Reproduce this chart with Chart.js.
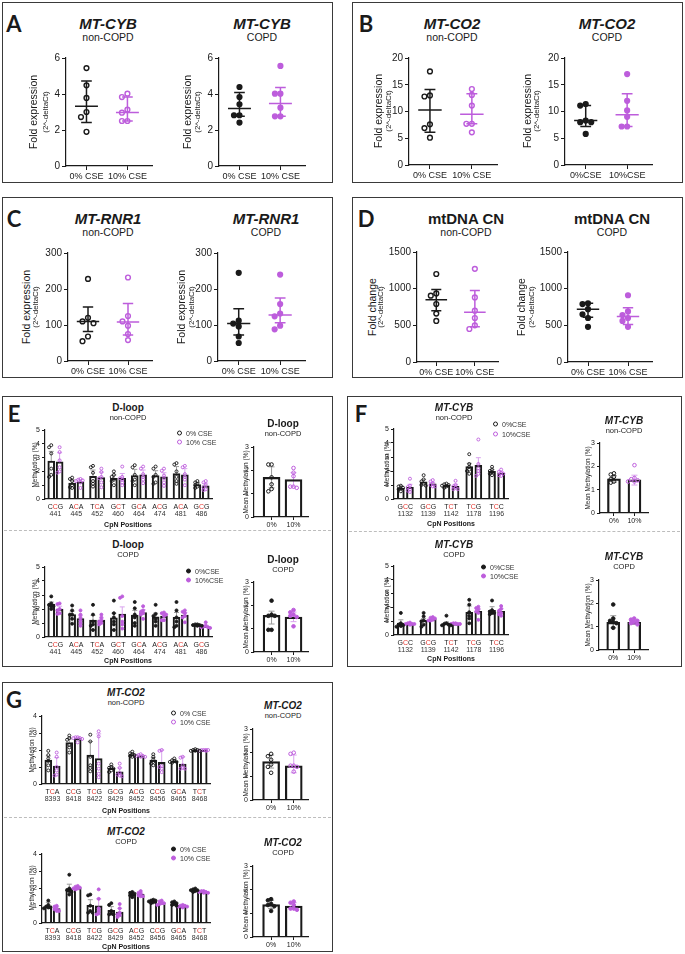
<!DOCTYPE html>
<html>
<head>
<meta charset="utf-8">
<script src="https://cdn.jsdelivr.net/npm/chart.js"></script>
<style>
  body { margin: 0; background: #fff; }
  #page { position: relative; width: 685px; height: 954px; overflow: hidden; background: #fff;
          font-family: "Liberation Sans", Arial, sans-serif; color: #1a1a1a; }
  .box { position: absolute; border: 1.5px solid #3a3a3a; box-sizing: border-box; }
  .dash { position: absolute; height: 0; border-top: 1.5px dashed #bdbdbd; }
  .t { position: absolute; transform: translate(-50%, -50%); white-space: nowrap; line-height: 1; z-index: 2; }
  .t.r { transform: translate(-50%, -50%) rotate(-90deg); }
  .leg { position: absolute; transform: translateY(-50%); white-space: nowrap; line-height: 1;
         font-size: 7px; color: #333; z-index: 2; }
  .leg i { display: inline-block; width: 3px; height: 3px; border-radius: 50%; border: 1px solid;
           margin-right: 4px; vertical-align: middle; position: relative; top: -1px; }
  canvas { position: absolute; z-index: 1; }
</style>
</head>
<body>
<div id="page">
  <div class="box" style="left:2px;top:2px;width:331px;height:181px"></div>
  <div class="box" style="left:352px;top:2px;width:331px;height:181px"></div>
  <div class="box" style="left:2px;top:197px;width:331px;height:181px"></div>
  <div class="box" style="left:352px;top:197px;width:331px;height:181px"></div>
  <div class="box" style="left:2px;top:396px;width:331px;height:271px"></div>
  <div class="box" style="left:347px;top:396px;width:335px;height:271px"></div>
  <div class="box" style="left:2px;top:682px;width:331px;height:270px"></div>
  <div class="dash" style="left:4px;top:530px;width:327px"></div>
  <div class="dash" style="left:349px;top:531px;width:331px"></div>
  <div class="dash" style="left:4px;top:817px;width:327px"></div>
</div>
<script>
// ---------- A-D : fold expression / fold change, 6 donors per group ----------
const cseLabels = ['0% CSE', '10% CSE'];
const cseLabelsTight = ['0%CSE', '10%CSE'];

const feCybNon0 = [5.44, 4.48, 3.78, 3.0, 2.72, 1.9];
const feCybNon10 = [4.02, 3.83, 3.13, 2.96, 2.5, 2.5];
const feCybNonMid = [3.32, 2.97];
const feCybNonLo = [2.41, 2.5];
const feCybNonHi = [4.72, 3.83];

const feCybCopd0 = [4.39, 3.83, 3.43, 2.82, 2.82, 2.41];
const feCybCopd10 = [5.56, 4.02, 4.02, 3.24, 2.76, 2.76];
const feCybCopdMid = [3.19, 3.47];
const feCybCopdLo = [2.76, 2.76];
const feCybCopdHi = [4.08, 4.36];

const feCo2Non0 = [17.5, 13.0, 12.8, 7.6, 6.9, 5.1];
const feCo2Non10 = [14.2, 13.1, 11.1, 7.7, 7.7, 6.1];
const feCo2NonMid = [10.3, 9.5];
const feCo2NonLo = [6.1, 7.7];
const feCo2NonHi = [14.1, 13.3];

const feCo2Copd0 = [11.4, 11.1, 8.3, 8.0, 8.0, 5.8];
const feCo2Copd10 = [17.0, 12.0, 10.2, 9.0, 7.2, 7.2];
const feCo2CopdMid = [8.3, 9.4];
const feCo2CopdLo = [7.2, 7.2];
const feCo2CopdHi = [11.1, 13.3];

const feRnrNon0 = [228, 120, 110, 105, 68, 55];
const feRnrNon10 = [232, 125, 110, 98, 75, 58];
const feRnrNonMid = [110, 108];
const feRnrNonLo = [82, 72];
const feRnrNonHi = [150, 160];

const feRnrCopd0 = [245, 112, 104, 96, 68, 50];
const feRnrCopd10 = [240, 158, 132, 124, 98, 88];
const feRnrCopdMid = [104, 128];
const feRnrCopdLo = [72, 106];
const feRnrCopdHi = [145, 175];

const fcCnNon0 = [1200, 935, 905, 790, 660, 560];
const fcCnNon10 = [1270, 880, 700, 600, 500, 450];
const fcCnNonMid = [850, 680];
const fcCnNonLo = [700, 480];
const fcCnNonHi = [990, 975];

const fcCnCopd0 = [800, 790, 720, 650, 600, 480];
const fcCnCopd10 = [910, 690, 640, 600, 560, 480];
const fcCnCopdMid = [720, 620];
const fcCnCopdLo = [610, 510];
const fcCnCopdHi = [800, 740];

// ---------- E-G : methylation per CpN position ----------
const dlCodons = ['CCG', 'ACA', 'TCA', 'GCT', 'GCA', 'ACG', 'ACA', 'GCG'];
const dlSites = ['441', '445', '452', '460', '464', '474', '481', '486'];
const cybCodons = ['GCC', 'GCG', 'TCT', 'TCG', 'TCC'];
const cybSites = ['1132', '1139', '1142', '1178', '1196'];
const co2Codons = ['TCA', 'CCG', 'TCG', 'GCG', 'ACG', 'CCG', 'GCA', 'TCT'];
const co2Sites = ['8393', '8418', '8422', '8429', '8452', '8456', '8465', '8468'];
const meanLabels = ['0%', '10%'];

const mDlNonBar0 = [2.75, 1.15, 1.65, 1.5, 1.7, 1.7, 1.85, 1.05];
const mDlNonBar10 = [2.7, 1.25, 1.55, 1.5, 1.75, 1.6, 1.75, 0.95];
const mDlNonErr0 = [3.45, 1.4, 2.1, 1.75, 2.15, 2.05, 2.35, 1.2];
const mDlNonErr10 = [3.35, 1.4, 1.95, 1.85, 2.1, 1.9, 2.2, 1.15];
const mDlNonPts0 = [[3.9, 3.75, 3.3, 2.2, 1.75, 1.6], [1.55, 1.45, 1.3, 1.0, 0.85, 0.8], [2.4, 2.3, 1.9, 1.3, 1.1, 0.9], [2.0, 1.75, 1.6, 1.4, 1.3, 1.0], [2.45, 2.3, 1.75, 1.4, 1.3, 1.0], [2.35, 2.2, 1.75, 1.6, 1.2, 1.1], [2.6, 2.5, 2.0, 1.6, 1.3, 1.1], [1.3, 1.2, 1.1, 1.0, 0.9, 0.8]];
const mDlNonPts10 = [[3.75, 3.4, 2.8, 2.3, 2.0, 1.9], [1.45, 1.4, 1.35, 1.3, 1.2, 0.8], [2.2, 1.95, 1.6, 1.5, 1.2, 0.85], [2.35, 1.6, 1.5, 1.4, 1.2, 1.0], [2.35, 2.2, 1.8, 1.6, 1.4, 1.15], [2.2, 2.05, 1.7, 1.5, 1.2, 0.95], [2.4, 2.3, 1.8, 1.6, 1.4, 1.0], [1.3, 1.2, 1.0, 0.85, 0.7, 0.65]];

const mDlCopdBar0 = [2.33, 1.6, 1.2, 1.37, 1.56, 1.44, 1.4, 0.85];
const mDlCopdBar10 = [2.0, 1.32, 1.2, 1.63, 1.75, 1.49, 1.56, 0.78];
const mDlCopdErr0 = [2.5, 1.85, 1.55, 1.7, 1.9, 1.7, 1.75, 0.9];
const mDlCopdErr10 = [2.2, 1.55, 1.35, 2.15, 1.95, 1.65, 1.75, 0.85];
const mDlCopdPts0 = [[2.9, 2.4, 2.3, 2.2, 2.2, 2.0], [2.25, 1.9, 1.6, 1.6, 1.3, 0.95], [2.3, 1.6, 1.1, 0.9, 0.8, 0.5], [2.6, 1.7, 1.4, 1.1, 0.9, 0.5], [2.5, 2.05, 1.6, 1.4, 1.0, 0.8], [2.3, 1.65, 1.5, 1.3, 1.1, 0.8], [2.5, 1.9, 1.4, 1.1, 0.8, 0.7], [0.9, 0.9, 0.85, 0.85, 0.8, 0.8]];
const mDlCopdPts10 = [[2.4, 2.35, 2.0, 1.9, 1.7, 1.65], [1.9, 1.6, 1.4, 1.2, 1.0, 0.8], [1.6, 1.4, 1.2, 1.1, 1.0, 0.9], [2.9, 2.8, 1.5, 1.1, 0.9, 0.6], [2.2, 1.9, 1.8, 1.7, 1.6, 1.3], [1.75, 1.7, 1.6, 1.5, 1.2, 1.2], [1.9, 1.8, 1.7, 1.5, 1.4, 1.05], [1.05, 0.8, 0.75, 0.7, 0.7, 0.65]];

const mCybNonBar0 = [0.78, 1.23, 0.97, 2.32, 1.97];
const mCybNonBar10 = [0.84, 1.08, 0.9, 2.4, 1.84];
const mCybNonErr0 = [0.95, 1.4, 1.05, 2.55, 2.1];
const mCybNonErr10 = [1.05, 1.2, 1.05, 2.95, 1.95];
const mCybNonPts0 = [[0.95, 0.9, 0.8, 0.75, 0.7, 0.55], [1.7, 1.4, 1.25, 1.1, 1.0, 0.95], [1.1, 1.05, 1.0, 0.95, 0.9, 0.8], [3.2, 2.5, 2.3, 2.1, 2.0, 1.8], [2.3, 2.1, 2.0, 1.9, 1.8, 1.7]];
const mCybNonPts10 = [[1.45, 0.95, 0.85, 0.7, 0.6, 0.5], [1.35, 1.25, 1.1, 1.0, 0.9, 0.9], [1.3, 1.0, 0.9, 0.8, 0.7, 0.7], [4.25, 2.5, 2.2, 2.0, 1.8, 1.65], [2.1, 1.95, 1.85, 1.8, 1.7, 1.65]];

const mCybCopdBar0 = [0.86, 1.06, 0.87, 1.64, 1.78];
const mCybCopdBar10 = [0.82, 1.16, 0.82, 1.71, 1.71];
const mCybCopdErr0 = [1.1, 1.2, 0.95, 2.1, 2.05];
const mCybCopdErr10 = [0.88, 1.25, 0.85, 1.9, 1.9];
const mCybCopdPts0 = [[1.6, 0.85, 0.75, 0.7, 0.65, 0.6], [1.6, 1.35, 1.05, 1.0, 0.75, 0.6], [1.4, 0.85, 0.8, 0.75, 0.7, 0.7], [2.55, 2.2, 1.65, 1.4, 1.2, 0.85], [2.5, 1.8, 1.7, 1.6, 1.6, 1.5]];
const mCybCopdPts10 = [[0.9, 0.85, 0.8, 0.8, 0.8, 0.75], [1.3, 1.25, 1.2, 1.1, 1.05, 1.05], [0.85, 0.85, 0.8, 0.8, 0.8, 0.8], [2.05, 1.95, 1.85, 1.7, 1.6, 1.1], [2.1, 1.9, 1.75, 1.6, 1.5, 1.4]];

const mCo2NonBar0 = [1.4, 2.44, 1.7, 0.92, 1.73, 1.4, 1.35, 1.99];
const mCo2NonBar10 = [1.05, 2.67, 1.5, 0.72, 1.66, 1.27, 1.17, 1.99];
const mCo2NonErr0 = [1.65, 2.65, 2.5, 1.05, 1.8, 1.55, 1.45, 2.05];
const mCo2NonErr10 = [1.55, 2.75, 2.95, 0.95, 1.7, 2.0, 1.6, 2.0];
const mCo2NonPts0 = [[1.95, 1.7, 1.5, 1.35, 1.1, 0.8], [2.85, 2.7, 2.6, 2.3, 2.15, 1.85], [2.9, 2.5, 1.6, 1.1, 0.95, 0.75], [1.15, 1.0, 0.95, 0.9, 0.8, 0.7], [1.9, 1.8, 1.75, 1.7, 1.65, 1.6], [1.75, 1.6, 1.45, 1.3, 1.2, 1.1], [1.5, 1.4, 1.35, 1.3, 1.3, 1.25], [2.05, 2.0, 2.0, 1.95, 1.95, 1.95]];
const mCo2NonPts10 = [[1.85, 1.6, 1.0, 0.8, 0.55, 0.5], [2.75, 2.75, 2.7, 2.7, 2.65, 2.45], [3.1, 2.8, 1.2, 0.9, 0.6, 0.4], [1.2, 0.95, 0.65, 0.55, 0.5, 0.45], [1.75, 1.7, 1.65, 1.65, 1.6, 1.6], [2.0, 1.95, 1.05, 1.0, 0.9, 0.7], [1.6, 1.55, 1.1, 0.95, 0.9, 0.9], [2.0, 2.0, 1.95, 1.95, 2.0, 2.0]];

const mCo2CopdBar0 = [0.99, 2.0, 1.03, 0.74, 1.67, 1.26, 1.13, 1.9];
const mCo2CopdBar10 = [0.83, 2.04, 0.99, 0.64, 1.67, 1.17, 0.97, 1.8];
const mCo2CopdErr0 = [1.2, 2.25, 1.35, 0.95, 1.75, 1.3, 1.2, 1.95];
const mCo2CopdErr10 = [0.95, 2.1, 1.4, 0.85, 1.75, 1.2, 1.05, 1.85];
const mCo2CopdPts0 = [[1.3, 1.05, 0.95, 0.9, 0.9, 0.85], [2.8, 2.0, 1.9, 1.85, 1.8, 1.65], [1.65, 1.6, 1.0, 0.7, 0.6, 0.6], [1.15, 1.05, 0.7, 0.55, 0.5, 0.5], [1.8, 1.75, 1.7, 1.65, 1.6, 1.5], [1.35, 1.3, 1.3, 1.25, 1.2, 1.15], [1.25, 1.2, 1.15, 1.1, 1.05, 1.0], [2.0, 1.95, 1.9, 1.9, 1.85, 1.8]];
const mCo2CopdPts10 = [[1.0, 0.95, 0.85, 0.8, 0.7, 0.7], [2.15, 2.1, 2.05, 2.0, 2.0, 1.95], [1.95, 1.4, 0.85, 0.7, 0.55, 0.5], [1.1, 0.85, 0.6, 0.5, 0.45, 0.35], [1.85, 1.75, 1.7, 1.6, 1.55, 1.55], [1.3, 1.25, 1.15, 1.15, 1.1, 1.05], [1.05, 1.0, 1.0, 0.95, 0.95, 0.9], [1.85, 1.85, 1.8, 1.8, 1.75, 1.75]];

// mean methylation (bar, SD low, SD high, donors)
const mDlNonMean = [1.7, 1.6], mDlNonMeanLo = [1.25, 1.3], mDlNonMeanHi = [2.15, 1.9];
const mDlNonMean0 = [2.25, 2.25, 1.7, 1.4, 1.2, 1.1], mDlNonMean10 = [2.1, 1.9, 1.75, 1.3, 1.3, 1.25];
const mDlCopdMean = [1.57, 1.5], mDlCopdMeanLo = [1.2, 1.3], mDlCopdMeanHi = [1.75, 1.71];
const mDlCopdMean0 = [2.2, 1.6, 1.55, 1.55, 0.95, 0.95], mDlCopdMean10 = [1.8, 1.7, 1.6, 1.55, 1.5, 1.1];
const mCybNonMean = [1.46, 1.42], mCybNonMeanLo = [1.32, 1.2], mCybNonMeanHi = [1.6, 1.62];
const mCybNonMean0 = [1.7, 1.65, 1.55, 1.45, 1.35, 1.3], mCybNonMean10 = [2.05, 1.5, 1.45, 1.4, 1.35, 1.35];
const mCybCopdMean = [1.19, 1.19], mCybCopdMeanLo = [0.95, 1.1], mCybCopdMeanHi = [1.47, 1.28];
const mCybCopdMean0 = [1.95, 1.35, 1.25, 1.2, 1.15, 0.95], mCybCopdMean10 = [1.35, 1.3, 1.25, 1.2, 1.15, 1.1];
const mCo2NonMean = [1.62, 1.44], mCo2NonMeanLo = [1.35, 1.15], mCo2NonMeanHi = [1.9, 1.9];
const mCo2NonMean0 = [1.95, 1.85, 1.7, 1.5, 1.4, 1.15], mCo2NonMean10 = [2.0, 1.95, 1.45, 1.45, 1.4, 1.2];
const mCo2CopdMean = [1.37, 1.31], mCo2CopdMeanLo = [1.2, 1.18], mCo2CopdMeanHi = [1.55, 1.45];
const mCo2CopdMean0 = [1.6, 1.55, 1.4, 1.35, 1.3, 1.1], mCo2CopdMean10 = [1.5, 1.45, 1.35, 1.2, 1.2, 1.15];

// ---------- drawing ----------
const FONT = '"Liberation Sans", Arial, sans-serif';
const INK = '#1a1a1a', PURPLE = '#bd5ddc', ERR0 = '#9b9b9b', ERR10 = '#d9a3ee', RED = '#e8372f';
Chart.defaults.font.family = FONT;
Chart.defaults.color = INK;
const page = document.getElementById('page');

function text(str, x, y, css, rotate) {
  const d = document.createElement('div');
  d.className = rotate ? 't r' : 't';
  d.textContent = str;
  d.style.cssText = `left:${x}px;top:${y}px;${css}`;
  page.appendChild(d);
}

function legend(x, y, str, col, filled) {
  const d = document.createElement('div');
  d.className = 'leg';
  d.style.left = (x - 3) + 'px';
  d.style.top = y + 'px';
  const dot = document.createElement('i');
  dot.style.borderColor = col;
  dot.style.background = filled ? col : 'transparent';
  d.append(dot, str);
  page.appendChild(d);
}

// canvas placed so that the plot area lands on the given box
function place(ax, top, bot, right, yw, pt, pr, xh) {
  const c = document.createElement('canvas');
  const left = ax - yw, y0 = top - pt;
  c.width = right + pr - left;
  c.height = bot + xh - y0;
  c.style.left = left + 'px';
  c.style.top = y0 + 'px';
  page.appendChild(c);
  return c;
}

// simple beeswarm: sideways offsets (px) so the dots do not sit on each other
function swarm(vals, pxv, gap) {
  const done = [];
  return vals.map(v => {
    const y = v * pxv;
    let best = 0, bestD = -1;
    for (const k of [0, -1, 1, -2, 2]) {
      const dx = k * gap;
      const d = Math.min(Infinity, ...done.map(p => Math.hypot(p[0] - dx, p[1] - y)));
      if (d >= gap) { best = dx; break; }
      if (d > bestD) { bestD = d; best = dx; }
    }
    done.push([best, y]);
    return best;
  });
}

function xAxis(min, max, labels, size, xh, tick) {
  return {
    type: 'linear', min, max, offset: false,
    afterBuildTicks: s => { s.ticks = labels.map((_, i) => ({value: i})); },
    afterFit: s => { s.height = xh; },
    ticks: {display: tick > 0, autoSkip: false, maxRotation: 0, padding: 1, color: INK,
            font: {size}, callback: v => labels[v]},
    grid: {display: tick > 0, drawOnChartArea: false, tickLength: tick, color: INK, offset: false},
    border: {display: true, color: INK, width: 1.2}
  };
}

function yAxis(max, step, size, yw, tick) {
  return {
    type: 'linear', min: 0, max,
    afterFit: s => { s.width = yw; },
    ticks: {stepSize: step, padding: 2, color: INK, font: {size}, callback: v => String(v)},
    grid: {drawOnChartArea: false, tickLength: tick, color: INK},
    border: {display: true, color: INK, width: 1.2}
  };
}

function baseOptions(pt, pr, scales, extra) {
  return {
    responsive: false, animation: false, events: [],
    layout: {padding: {top: pt, right: pr, left: 0, bottom: 0}},
    scales,
    plugins: Object.assign({legend: {display: false}, tooltip: {enabled: false}}, extra || {})
  };
}

// mean line + SD whiskers for the dot plots
const summaryLines = {
  id: 'summaryLines',
  afterDatasetsDraw(chart) {
    const {ctx, scales: {x, y}} = chart;
    chart.data.datasets.forEach(ds => {
      const s = ds.summary;
      if (!s) return;
      const cx = x.getPixelForValue(s.at);
      const half = x.getPixelForValue(s.at + 0.28) - cx;
      const cap = x.getPixelForValue(s.at + 0.13) - cx;
      const yHi = y.getPixelForValue(s.hi), yLo = y.getPixelForValue(s.lo), yMid = y.getPixelForValue(s.mid);
      ctx.save();
      ctx.strokeStyle = s.color;
      ctx.lineWidth = 1.5;
      ctx.beginPath();
      ctx.moveTo(cx - half, yMid); ctx.lineTo(cx + half, yMid);
      ctx.moveTo(cx, yLo); ctx.lineTo(cx, yHi);
      ctx.moveTo(cx - cap, yHi); ctx.lineTo(cx + cap, yHi);
      ctx.moveTo(cx - cap, yLo); ctx.lineTo(cx + cap, yLo);
      ctx.stroke();
      ctx.restore();
    });
  }
};

// whiskers on the bars
const errorBars = {
  id: 'errorBars',
  beforeDatasetsDraw(chart) {
    const {ctx, scales: {y}} = chart;
    chart.data.datasets.forEach((ds, di) => {
      const e = ds.err;
      if (!e) return;
      const meta = chart.getDatasetMeta(di);
      ctx.save();
      ctx.lineWidth = 1;
      meta.data.forEach((bar, j) => {
        const yHi = y.getPixelForValue(e.hi[j]);
        const yLo = e.lo ? y.getPixelForValue(e.lo[j]) : bar.y;
        ctx.strokeStyle = e.color[j];
        ctx.beginPath();
        ctx.moveTo(bar.x, yLo); ctx.lineTo(bar.x, yHi);
        ctx.moveTo(bar.x - e.cap, yHi); ctx.lineTo(bar.x + e.cap, yHi);
        if (e.lo) { ctx.moveTo(bar.x - e.cap, yLo); ctx.lineTo(bar.x + e.cap, yLo); }
        ctx.stroke();
      });
      ctx.restore();
    });
  }
};

// codon (middle base in red) + position under each group
const codonLabels = {
  id: 'codons',
  afterDraw(chart, args, opts) {
    const {ctx, chartArea} = chart, x = chart.scales.x;
    ctx.save();
    ctx.font = '7px ' + FONT;
    ctx.textBaseline = 'middle';
    ctx.textAlign = 'left';
    opts.codons.forEach((c, i) => {
      let px = x.getPixelForValue(i) - ctx.measureText(c).width / 2;
      [...c].forEach((ch, k) => {
        ctx.fillStyle = k === 1 ? RED : INK;
        ctx.fillText(ch, px, chartArea.bottom + 8);
        px += ctx.measureText(ch).width;
      });
    });
    ctx.textAlign = 'center';
    ctx.fillStyle = '#333';
    opts.sites.forEach((s, i) => ctx.fillText(s, x.getPixelForValue(i), chartArea.bottom + 15));
    ctx.restore();
  }
};

function dotChart(o) {
  const yw = 36, pt = 10, pr = 10, xh = 24, xmin = -0.5, xmax = 1.6;
  const canvas = place(o.ax, o.top, o.bot, o.right, yw, pt, pr, xh);
  const pxv = (o.bot - o.top) / o.max;
  const pxc = (o.right - o.ax) / (xmax - xmin);
  const group = (vals, i, col) => {
    const jit = swarm(vals, pxv, 5.5);
    return {
      type: 'scatter', clip: false,
      data: vals.map((v, k) => ({x: i + jit[k] / pxc, y: v})),
      pointRadius: 2.4, pointBorderWidth: 1.4,
      pointBorderColor: col, pointBackgroundColor: o.filled ? col : '#fff',
      summary: {at: i, mid: o.mid[i], lo: o.lo[i], hi: o.hi[i], color: col}
    };
  };
  new Chart(canvas, {
    type: 'scatter',
    data: {datasets: [group(o.p0, 0, INK), group(o.p10, 1, PURPLE)]},
    options: baseOptions(pt, pr, {
      x: xAxis(xmin, xmax, o.labels, 9, xh, 4),
      y: yAxis(o.max, o.step, 10, yw, 4)
    }),
    plugins: [summaryLines]
  });
}

function methChart(o) {
  const yw = 16, pt = 8, pr = 8, xh = 24;
  const n = o.codons.length;
  const canvas = place(o.ax, o.top, o.bot, o.right, yw, pt, pr, xh);
  const pxv = (o.bot - o.top) / o.max, pxc = (o.right - o.ax) / n;
  const bars = (vals, hi, off, errCol) => ({
    type: 'bar', order: 2, grouped: false, barThickness: 7,
    data: vals.map((v, i) => ({x: i + off, y: v})),
    backgroundColor: 'rgba(255,255,255,0)', borderColor: INK, borderWidth: 1.4,
    err: {hi, color: vals.map(() => errCol), cap: 2.5}
  });
  const dots = (groups, off, col) => ({
    type: 'scatter', order: 0, clip: false,
    data: groups.flatMap((vals, i) => {
      const j = swarm(vals, pxv, 2.2);
      return vals.map((v, k) => ({x: i + off + j[k] / pxc, y: v}));
    }),
    pointRadius: 1.5, pointBorderWidth: 0.9, pointBorderColor: col,
    pointBackgroundColor: o.filled ? col : 'rgba(255,255,255,0)'
  });
  new Chart(canvas, {
    type: 'scatter',
    data: {datasets: [
      bars(o.b0, o.e0, -0.2, ERR0), bars(o.b10, o.e10, 0.2, ERR10),
      dots(o.p0, -0.2, INK), dots(o.p10, 0.2, PURPLE)
    ]},
    options: baseOptions(pt, pr, {
      x: xAxis(-0.5, n - 0.5, o.codons, 7, xh, 0),
      y: yAxis(o.max, 1, 7, yw, 3)
    }, {codons: {codons: o.codons, sites: o.sites}}),
    plugins: [errorBars, codonLabels]
  });
}

function meanChart(o) {
  const yw = 16, pt = 8, pr = 8, xh = 16;
  const canvas = place(o.ax, o.top, o.bot, o.right, yw, pt, pr, xh);
  const pxv = (o.bot - o.top) / 3, pxc = (o.right - o.ax) / (o.xmax - o.xmin);
  const dots = (vals, i, col) => {
    const j = swarm(vals, pxv, 3.2);
    return {
      type: 'scatter', order: 0, clip: false,
      data: vals.map((v, k) => ({x: i + j[k] / pxc, y: v})),
      pointRadius: 1.8, pointBorderWidth: 1, pointBorderColor: col,
      pointBackgroundColor: o.filled ? col : 'rgba(255,255,255,0)'
    };
  };
  new Chart(canvas, {
    type: 'scatter',
    data: {datasets: [
      {type: 'bar', order: 2, grouped: false, barThickness: o.barW,
       data: o.means.map((v, i) => ({x: i, y: v})),
       backgroundColor: 'rgba(255,255,255,0)', borderColor: INK, borderWidth: 1.6,
       err: {hi: o.hi, lo: o.lo, color: [ERR0, ERR10], cap: 3}},
      dots(o.p0, 0, INK), dots(o.p10, 1, PURPLE)
    ]},
    options: baseOptions(pt, pr, {
      x: xAxis(o.xmin, o.xmax, meanLabels, 7, xh, 3),
      y: yAxis(3, 1, 7, yw, 3)
    }),
    plugins: [errorBars]
  });
}

// ---- A-D ----
dotChart({ax: 66, top: 58, bot: 166, right: 152, max: 6, step: 2, labels: cseLabels, filled: false,
  p0: feCybNon0, p10: feCybNon10, mid: feCybNonMid, lo: feCybNonLo, hi: feCybNonHi});
dotChart({ax: 219, top: 58, bot: 166, right: 305, max: 6, step: 2, labels: cseLabels, filled: true,
  p0: feCybCopd0, p10: feCybCopd10, mid: feCybCopdMid, lo: feCybCopdLo, hi: feCybCopdHi});
dotChart({ax: 409, top: 58, bot: 165, right: 497, max: 20, step: 5, labels: cseLabels, filled: false,
  p0: feCo2Non0, p10: feCo2Non10, mid: feCo2NonMid, lo: feCo2NonLo, hi: feCo2NonHi});
dotChart({ax: 565, top: 58, bot: 165, right: 652, max: 20, step: 5, labels: cseLabelsTight, filled: true,
  p0: feCo2Copd0, p10: feCo2Copd10, mid: feCo2CopdMid, lo: feCo2CopdLo, hi: feCo2CopdHi});
dotChart({ax: 68, top: 253, bot: 361, right: 152, max: 300, step: 100, labels: cseLabels, filled: false,
  p0: feRnrNon0, p10: feRnrNon10, mid: feRnrNonMid, lo: feRnrNonLo, hi: feRnrNonHi});
dotChart({ax: 218, top: 253, bot: 361, right: 305, max: 300, step: 100, labels: cseLabels, filled: true,
  p0: feRnrCopd0, p10: feRnrCopd10, mid: feRnrCopdMid, lo: feRnrCopdLo, hi: feRnrCopdHi});
dotChart({ax: 417, top: 252, bot: 362, right: 498, max: 1500, step: 500, labels: cseLabels, filled: false,
  p0: fcCnNon0, p10: fcCnNon10, mid: fcCnNonMid, lo: fcCnNonLo, hi: fcCnNonHi});
dotChart({ax: 568, top: 252, bot: 362, right: 652, max: 1500, step: 500, labels: cseLabels, filled: true,
  p0: fcCnCopd0, p10: fcCnCopd10, mid: fcCnCopdMid, lo: fcCnCopdLo, hi: fcCnCopdHi});

// ---- E-G ----
methChart({ax: 45, top: 430, bot: 499, right: 212, max: 5, codons: dlCodons, sites: dlSites, filled: false,
  b0: mDlNonBar0, b10: mDlNonBar10, e0: mDlNonErr0, e10: mDlNonErr10, p0: mDlNonPts0, p10: mDlNonPts10});
methChart({ax: 45, top: 567, bot: 637, right: 212, max: 5, codons: dlCodons, sites: dlSites, filled: true,
  b0: mDlCopdBar0, b10: mDlCopdBar10, e0: mDlCopdErr0, e10: mDlCopdErr10, p0: mDlCopdPts0, p10: mDlCopdPts10});
methChart({ax: 394, top: 429, bot: 499, right: 508, max: 5, codons: cybCodons, sites: cybSites, filled: false,
  b0: mCybNonBar0, b10: mCybNonBar10, e0: mCybNonErr0, e10: mCybNonErr10, p0: mCybNonPts0, p10: mCybNonPts10});
methChart({ax: 394, top: 566, bot: 635, right: 508, max: 5, codons: cybCodons, sites: cybSites, filled: true,
  b0: mCybCopdBar0, b10: mCybCopdBar10, e0: mCybCopdErr0, e10: mCybCopdErr10, p0: mCybCopdPts0, p10: mCybCopdPts10});
methChart({ax: 42, top: 716, bot: 784, right: 210, max: 4, codons: co2Codons, sites: co2Sites, filled: false,
  b0: mCo2NonBar0, b10: mCo2NonBar10, e0: mCo2NonErr0, e10: mCo2NonErr10, p0: mCo2NonPts0, p10: mCo2NonPts10});
methChart({ax: 42, top: 854, bot: 923, right: 210, max: 4, codons: co2Codons, sites: co2Sites, filled: true,
  b0: mCo2CopdBar0, b10: mCo2CopdBar10, e0: mCo2CopdErr0, e10: mCo2CopdErr10, p0: mCo2CopdPts0, p10: mCo2CopdPts10});

meanChart({ax: 254, top: 447, bot: 517, right: 308, xmin: -0.8, xmax: 1.66, barW: 17, filled: false,
  means: mDlNonMean, lo: mDlNonMeanLo, hi: mDlNonMeanHi, p0: mDlNonMean0, p10: mDlNonMean10});
meanChart({ax: 254, top: 582, bot: 652, right: 308, xmin: -0.8, xmax: 1.66, barW: 17, filled: true,
  means: mDlCopdMean, lo: mDlCopdMeanLo, hi: mDlCopdMeanHi, p0: mDlCopdMean0, p10: mDlCopdMean10});
meanChart({ax: 600, top: 443, bot: 513, right: 648, xmin: -0.68, xmax: 1.66, barW: 13, filled: false,
  means: mCybNonMean, lo: mCybNonMeanLo, hi: mCybNonMeanHi, p0: mCybNonMean0, p10: mCybNonMean10});
meanChart({ax: 599, top: 580, bot: 650, right: 648, xmin: -0.68, xmax: 1.66, barW: 13, filled: true,
  means: mCybCopdMean, lo: mCybCopdMeanLo, hi: mCybCopdMeanHi, p0: mCybCopdMean0, p10: mCybCopdMean10});
meanChart({ax: 253, top: 729, bot: 800, right: 308, xmin: -0.8, xmax: 1.63, barW: 17, filled: false,
  means: mCo2NonMean, lo: mCo2NonMeanLo, hi: mCo2NonMeanHi, p0: mCo2NonMean0, p10: mCo2NonMean10});
meanChart({ax: 253, top: 866, bot: 937, right: 308, xmin: -0.8, xmax: 1.63, barW: 17, filled: true,
  means: mCo2CopdMean, lo: mCo2CopdMeanLo, hi: mCo2CopdMeanHi, p0: mCo2CopdMean0, p10: mCo2CopdMean10});

// ---- text ----
[['A', 14, 23], ['B', 366, 23], ['C', 14, 218], ['D', 366, 218], ['E', 14, 413], ['F', 361, 413], ['G', 14, 699]]
  .forEach(([s, x, y]) => text(s, x, y, 'font:700 22px Lato, sans-serif;'));

const head = (gene, grp, x, y, italic) => {
  text(gene, x, y, `font-size:15px;font-weight:700;${italic ? 'font-style:italic;' : ''}`);
  text(grp, x, y + 14, 'font-size:10.5px;');
};
head('MT-CYB', 'non-COPD', 108, 23, true); head('MT-CYB', 'COPD', 262, 23, true);
head('MT-CO2', 'non-COPD', 452, 23, true); head('MT-CO2', 'COPD', 607, 23, true);
head('MT-RNR1', 'non-COPD', 108, 218, true); head('MT-RNR1', 'COPD', 266, 218, true);
head('mtDNA CN', 'non-COPD', 466, 218, false); head('mtDNA CN', 'COPD', 612, 218, false);

const ytitle = (main, x1, x2, y) => {
  text(main, x1, y, 'font-size:10.5px;', true);
  text('(2^-deltaCt)', x2, y, 'font-size:8px;', true);
};
ytitle('Fold expression', 33, 46, 112); ytitle('Fold expression', 187, 198, 112);
ytitle('Fold expression', 378, 389, 111); ytitle('Fold expression', 527, 537, 111);
ytitle('Fold expression', 26, 36, 307); ytitle('Fold expression', 181, 192, 307);
ytitle('Fold change', 372, 381, 307); ytitle('Fold change', 521, 532, 307);

const mhead = (gene, grp, x, y, italic) => {
  text(gene, x, y, `font-size:10px;font-weight:700;${italic ? 'font-style:italic;' : ''}`);
  text(grp, x, y + 10, 'font-size:7.5px;');
};
mhead('D-loop', 'non-COPD', 128, 408, false); mhead('D-loop', 'non-COPD', 283, 424, false);
mhead('D-loop', 'COPD', 128, 545, false); mhead('D-loop', 'COPD', 283, 560, false);
mhead('MT-CYB', 'non-COPD', 454, 408, true); mhead('MT-CYB', 'non-COPD', 624, 421, true);
mhead('MT-CYB', 'COPD', 454, 545, true); mhead('MT-CYB', 'COPD', 624, 557, true);
mhead('MT-CO2', 'non-COPD', 126, 693, true); mhead('MT-CO2', 'non-COPD', 283, 706, true);
mhead('MT-CO2', 'COPD', 126, 832, true); mhead('MT-CO2', 'COPD', 283, 843, true);

[[128, 524], [128, 660], [451, 523], [451, 658], [126, 810], [126, 946]]
  .forEach(([x, y]) => text('CpN Positions', x, y, 'font-size:7px;font-weight:700;'));
[[35, 465], [35, 602], [387, 464], [387, 600], [32, 750], [32, 888]]
  .forEach(([x, y]) => text('Methylation (%)', x, y, 'font-size:6.5px;', true));
[[246, 482], [246, 617], [588, 478], [588, 615], [246, 765], [246, 901]]
  .forEach(([x, y]) => text('Mean Methylation (%)', x, y, 'font-size:6.5px;', true));

legend(180, 433, '0% CSE', INK, false); legend(180, 442, '10% CSE', PURPLE, false);
legend(189, 571, '0%CSE', INK, true); legend(189, 580, '10%CSE', PURPLE, true);
legend(496, 424, '0%CSE', INK, false); legend(496, 434, '10%CSE', PURPLE, false);
legend(484, 567, '0%CSE', INK, true); legend(484, 576, '10%CSE', PURPLE, true);
legend(174, 713, '0% CSE', INK, false); legend(174, 722, '10% CSE', PURPLE, false);
legend(174, 849, '0% CSE', INK, true); legend(174, 858, '10% CSE', PURPLE, true);
</script>
</body>
</html>
